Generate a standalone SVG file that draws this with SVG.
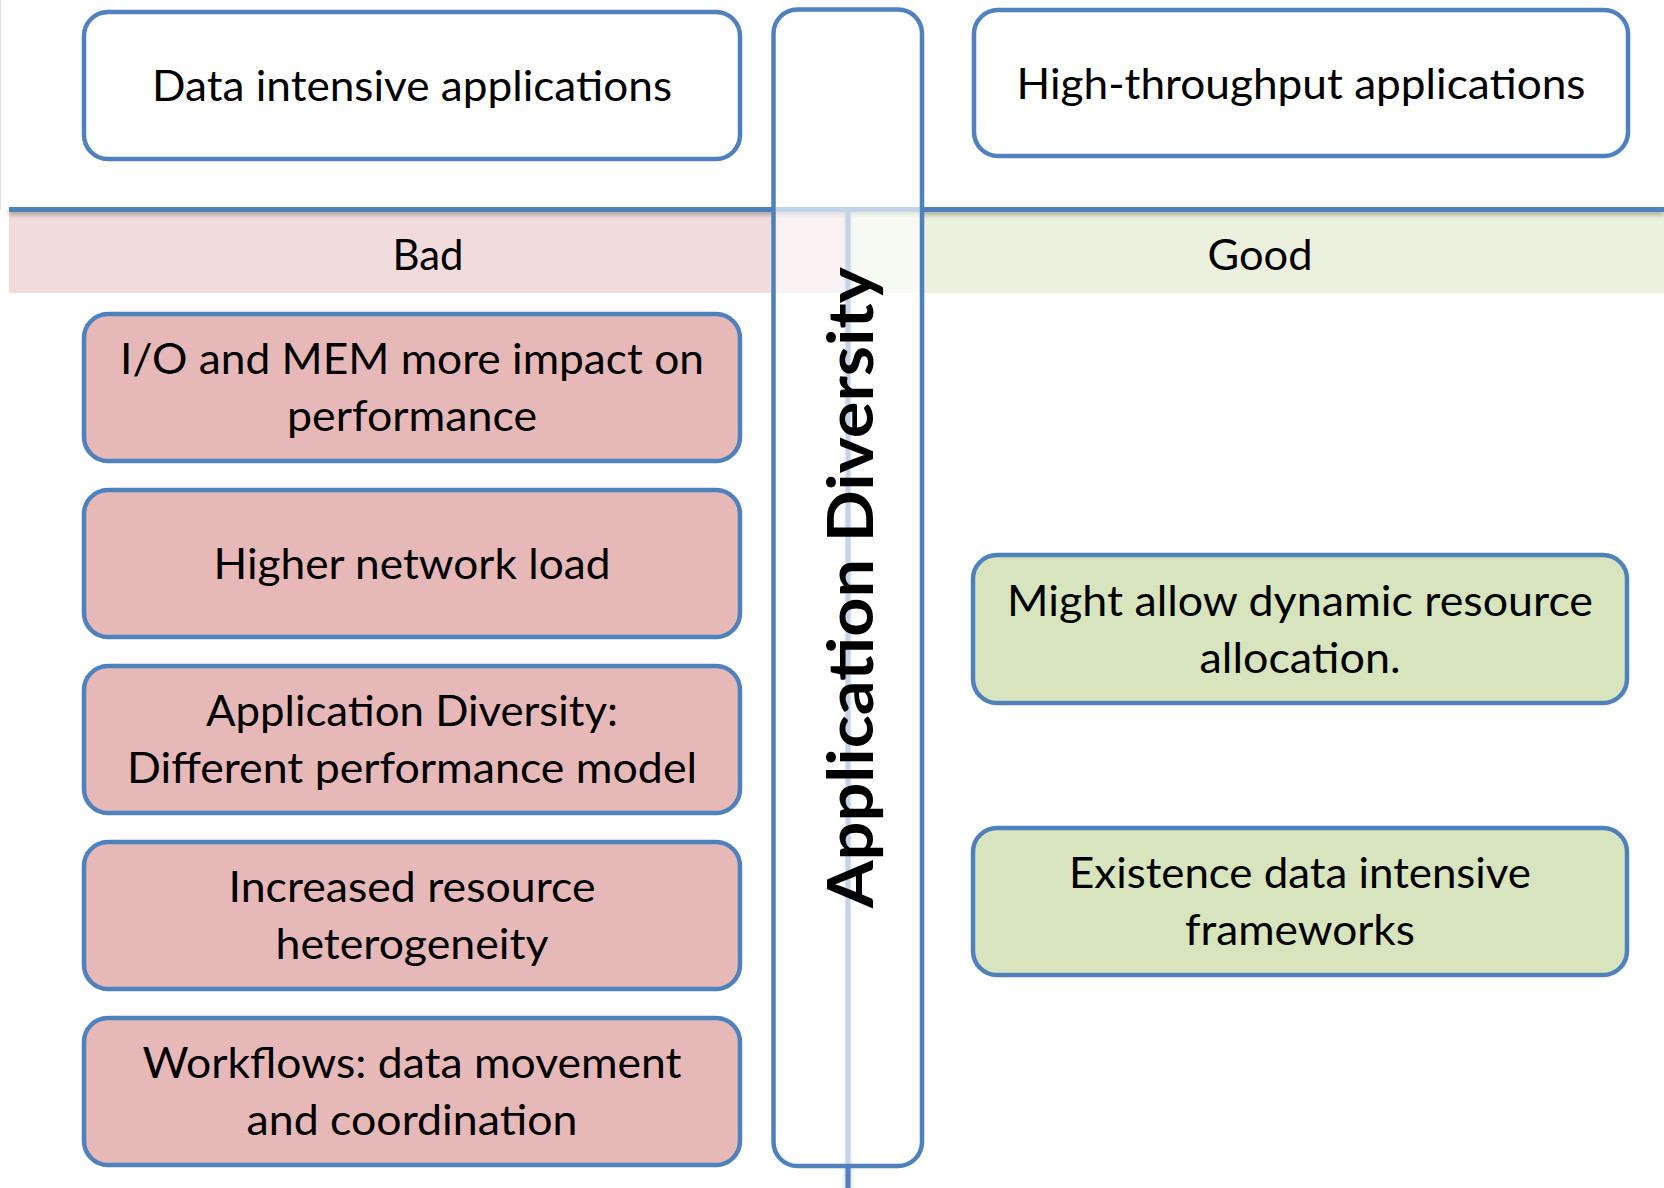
<svg xmlns="http://www.w3.org/2000/svg" width="1664" height="1188" viewBox="0 0 1664 1188">
  <defs>
    <style>
      .box { stroke: #4F81BD; stroke-width: 4.5; }
      .plain { fill: #FFFFFF; }
      .bad { fill: #E6B9B8; }
      .good { fill: #D7E4BD; }
      .lbl { font-family: Lato, "Open Sans", "Liberation Sans", sans-serif; font-size: 42px; fill: #000000; text-anchor: middle; }
      .title { font-family: Lato, "Open Sans", "Liberation Sans", sans-serif; font-size: 64px; font-weight: bold; fill: #000000; text-anchor: middle; }
      .rule { stroke: #4F81BD; stroke-width: 5; fill: none; }
    </style>
    <filter id="soft-shadow" x="-5%" y="-50%" width="110%" height="300%">
      <feDropShadow dx="0" dy="3" stdDeviation="2" flood-color="#000000" flood-opacity="0.28"/>
    </filter>
  </defs>

  <rect width="1664" height="1188" fill="#FFFFFF"/>
  <line x1="0.5" y1="0" x2="0.5" y2="210" stroke="#E4E4E4" stroke-width="1.5"/>

  <!-- header bands -->
  <g id="bands">
    <rect x="9" y="211" width="839" height="82" fill="#F2DCDB"/>
    <rect x="848" y="211" width="816" height="82" fill="#EBF1DE"/>
    <text class="lbl" x="428" y="270" textLength="71" lengthAdjust="spacingAndGlyphs">Bad</text>
    <text class="lbl" x="1260" y="270" textLength="105" lengthAdjust="spacingAndGlyphs">Good</text>
  </g>

  <!-- dividing rules -->
  <g id="grid-lines" filter="url(#soft-shadow)">
    <line class="rule" x1="9" y1="209.5" x2="1664" y2="209.5"/>
    <line class="rule" x1="848" y1="212" x2="848" y2="1188"/>
  </g>

  <!-- central column -->
  <g id="app-diversity">
    <rect x="773.5" y="9.5" width="148.5" height="1156.5" rx="24" fill="#FFFFFF" fill-opacity="0.66" stroke="#4F81BD" stroke-width="4.5"/>
    <text class="title" transform="translate(873 587.5) rotate(-90)" textLength="641" lengthAdjust="spacingAndGlyphs">Application Diversity</text>
  </g>

  <!-- column headers -->
  <g id="data-intensive">
    <rect class="box plain" x="84" y="12" width="656" height="147" rx="24"/>
    <text class="lbl" x="412" y="101" textLength="520" lengthAdjust="spacingAndGlyphs">Data intensive applications</text>
  </g>
  <g id="high-throughput">
    <rect class="box plain" x="974" y="10" width="654" height="146" rx="24"/>
    <text class="lbl" x="1301" y="99" textLength="569" lengthAdjust="spacingAndGlyphs">High-throughput applications</text>
  </g>

  <!-- drawbacks -->
  <g id="io-mem">
    <rect class="box bad" x="84" y="314" width="656" height="147" rx="24"/>
    <text class="lbl" x="412" y="374" textLength="584" lengthAdjust="spacingAndGlyphs">I/O and MEM more impact on</text>
    <text class="lbl" x="412" y="431" textLength="250" lengthAdjust="spacingAndGlyphs">performance</text>
  </g>
  <g id="network-load">
    <rect class="box bad" x="84" y="490" width="656" height="147" rx="24"/>
    <text class="lbl" x="412" y="578.5" textLength="397" lengthAdjust="spacingAndGlyphs">Higher network load</text>
  </g>
  <g id="perf-model">
    <rect class="box bad" x="84" y="666" width="656" height="147" rx="24"/>
    <text class="lbl" x="412" y="726" textLength="412" lengthAdjust="spacingAndGlyphs">Application Diversity:</text>
    <text class="lbl" x="412" y="783" textLength="570" lengthAdjust="spacingAndGlyphs">Different performance model</text>
  </g>
  <g id="heterogeneity">
    <rect class="box bad" x="84" y="842" width="656" height="147" rx="24"/>
    <text class="lbl" x="412" y="902" textLength="367" lengthAdjust="spacingAndGlyphs">Increased resource</text>
    <text class="lbl" x="412" y="959" textLength="273" lengthAdjust="spacingAndGlyphs">heterogeneity</text>
  </g>
  <g id="workflows">
    <rect class="box bad" x="84" y="1018" width="656" height="147" rx="24"/>
    <text class="lbl" x="412" y="1078" textLength="539" lengthAdjust="spacingAndGlyphs">Workflows: data movement</text>
    <text class="lbl" x="412" y="1135" textLength="331" lengthAdjust="spacingAndGlyphs">and coordination</text>
  </g>

  <!-- benefits -->
  <g id="dynamic-allocation">
    <rect class="box good" x="973" y="555" width="654" height="148" rx="24"/>
    <text class="lbl" x="1300" y="616" textLength="586" lengthAdjust="spacingAndGlyphs">Might allow dynamic resource</text>
    <text class="lbl" x="1300" y="673" textLength="201" lengthAdjust="spacingAndGlyphs">allocation.</text>
  </g>
  <g id="frameworks">
    <rect class="box good" x="973" y="828" width="654" height="147" rx="24"/>
    <text class="lbl" x="1300" y="888" textLength="462" lengthAdjust="spacingAndGlyphs">Existence data intensive</text>
    <text class="lbl" x="1300" y="945" textLength="230" lengthAdjust="spacingAndGlyphs">frameworks</text>
  </g>
</svg>
